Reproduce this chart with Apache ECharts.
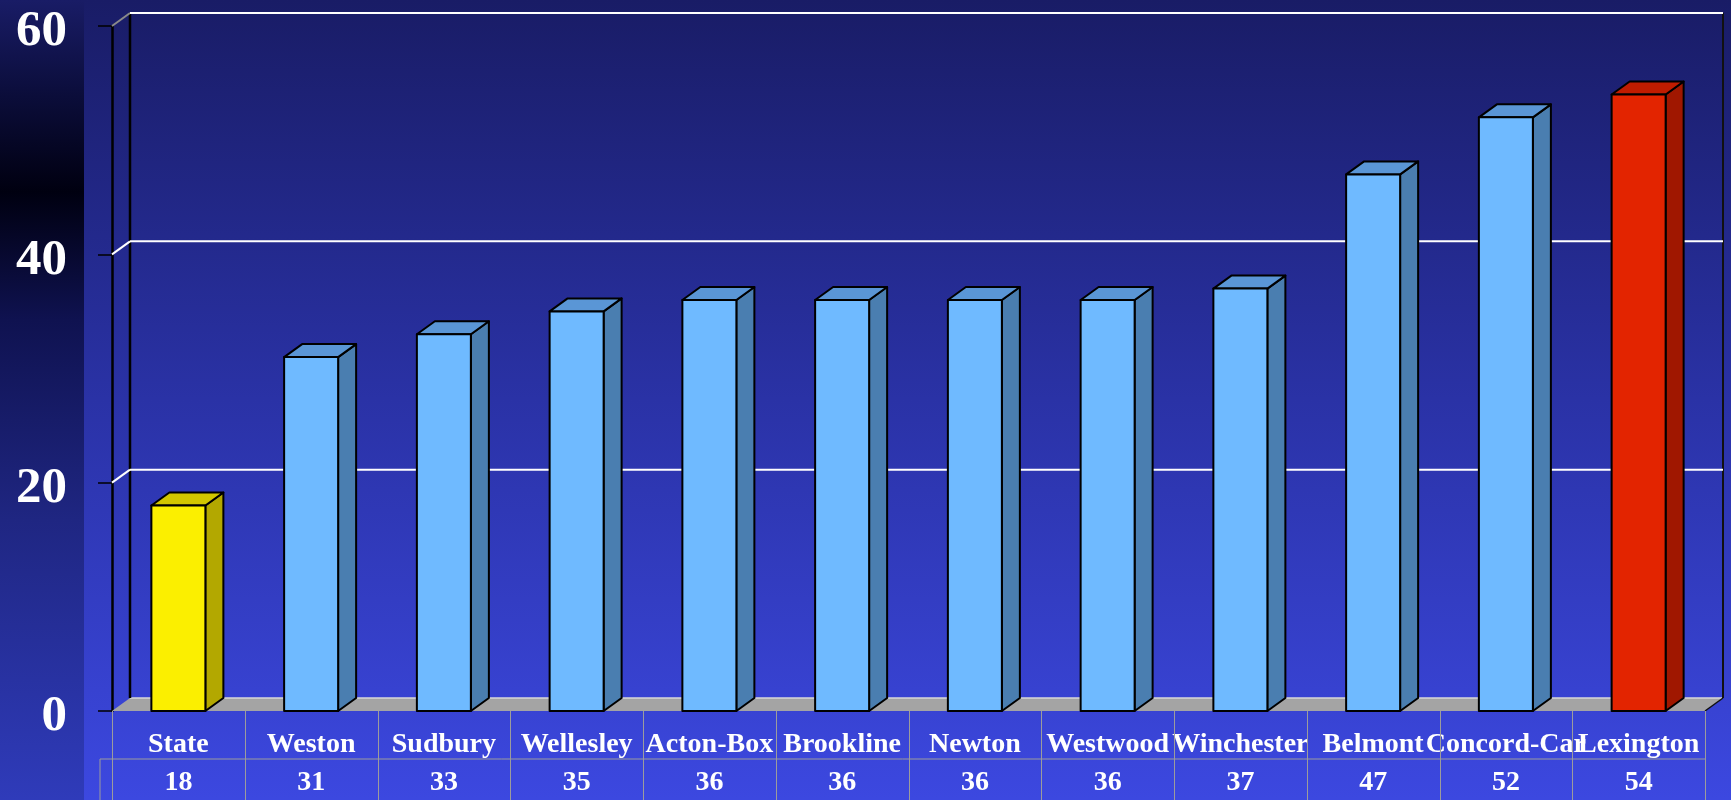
<!DOCTYPE html>
<html>
<head>
<meta charset="utf-8">
<script src="https://cdn.jsdelivr.net/npm/echarts@6/dist/echarts.min.js"></script>
<style>
  html, body { margin: 0; padding: 0; overflow: hidden; }
  #chart { width: 1731px; height: 800px; }
</style>
</head>
<body>
<div id="chart"></div>
<script>
// data
const categories = ['State', 'Weston', 'Sudbury', 'Wellesley', 'Acton-Box', 'Brookline', 'Newton', 'Westwood', 'Winchester', 'Belmont', 'Concord-Car', 'Lexington']
const values = [18, 31, 33, 35, 36, 36, 36, 36, 37, 47, 52, 54]
const yTicks = [0, 20, 40, 60]

const FONT = '"Liberation Serif", "Times New Roman", serif'
const DX = 18      // 3d depth, horizontal
const DY = 13      // 3d depth, vertical
const BAR_W = 54

function barColors (name) {
  if (name === 'State') return { front: '#fbef00', side: '#b3a800', top: '#d2c600' }
  if (name === 'Lexington') return { front: '#e32400', side: '#a01700', top: '#c01c00' }
  return { front: '#6fbaff', side: '#4a7eb0', top: '#5a96d6' }
}

const black = { stroke: '#000', lineWidth: 2, lineJoin: 'round' }

// bars: front face, side face, top face
function renderBar (params, api) {
  const i = api.value(0)
  const v = api.value(1)
  const top = api.coord([i, v])
  const base = api.coord([i, 0])
  const x0 = top[0] - BAR_W / 2
  const x1 = top[0] + BAR_W / 2
  const c = barColors(categories[i])
  return {
    type: 'group',
    children: [
      { type: 'polygon', shape: { points: [[x1, top[1]], [x1 + DX, top[1] - DY], [x1 + DX, base[1] - DY], [x1, base[1]]] }, style: { fill: c.side, ...black } },
      { type: 'polygon', shape: { points: [[x0, top[1]], [x0 + DX, top[1] - DY], [x1 + DX, top[1] - DY], [x1, top[1]]] }, style: { fill: c.top, ...black } },
      { type: 'rect', shape: { x: x0, y: top[1], width: BAR_W, height: base[1] - top[1] }, style: { fill: c.front, ...black } }
    ]
  }
}

// back wall gridlines with the little diagonal from the front axis
function renderGrid (params, api) {
  const cs = params.coordSys
  const t = api.value(1)
  if (t === 0) return null
  const y = api.coord([0, t])[1]
  const left = cs.x
  const right = cs.x + cs.width
  return {
    type: 'group',
    children: [
      { type: 'line', shape: { x1: left, y1: y, x2: left + DX, y2: y - DY }, style: { stroke: t === 60 ? '#8a8a8a' : '#ffffff', lineWidth: 2 } },
      { type: 'line', shape: { x1: left + DX, y1: y - DY, x2: right + DX, y2: y - DY }, style: { stroke: '#ffffff', lineWidth: 2 } }
    ]
  }
}

// floor, walls and the data table lines
function renderFrame (params, api) {
  const cs = params.coordSys
  const left = cs.x
  const right = cs.x + cs.width
  const y0 = api.coord([0, 0])[1]
  const yTop = api.coord([0, 60])[1]
  const colW = cs.width / categories.length
  const rowY = y0 + 48
  const children = [
    { type: 'polygon', shape: { points: [[left, y0], [left + DX, y0 - DY], [right + DX, y0 - DY], [right, y0]] }, style: { fill: '#a4a4a4' } },
    { type: 'line', shape: { x1: left + DX, y1: y0 - DY, x2: right + DX, y2: y0 - DY }, style: { stroke: '#d8d8d8', lineWidth: 1.5 } },
    { type: 'line', shape: { x1: right, y1: y0, x2: right + DX, y2: y0 - DY }, style: { stroke: '#111', lineWidth: 1.5 } },
    { type: 'line', shape: { x1: left + DX, y1: yTop - DY, x2: left + DX, y2: y0 - DY }, style: { stroke: '#000', lineWidth: 2.5 } },
    { type: 'line', shape: { x1: right + DX, y1: yTop - DY, x2: right + DX, y2: y0 - DY }, style: { stroke: '#111', lineWidth: 2 } },
    { type: 'line', shape: { x1: left - 12, y1: rowY, x2: right, y2: rowY }, style: { stroke: '#9c9c9c', lineWidth: 1 } },
    { type: 'line', shape: { x1: left - 12, y1: rowY, x2: left - 12, y2: 800 }, style: { stroke: '#9c9c9c', lineWidth: 1 } }
  ]
  for (let k = 0; k <= categories.length; k++) {
    const x = Math.round(left + k * colW) + 0.5
    children.push({ type: 'line', shape: { x1: x, y1: y0, x2: x, y2: 800 }, style: { stroke: '#9c9c9c', lineWidth: 1 } })
  }
  return { type: 'group', children }
}

const chart = echarts.init(document.getElementById('chart'), null, { renderer: 'canvas' })

const option = {
  animation: false,
  graphic: [
    {
      type: 'rect', z: -10, silent: true,
      shape: { x: 0, y: 0, width: 1731, height: 800 },
      style: { fill: new echarts.graphic.LinearGradient(0, 0, 0, 1, [
        { offset: 0, color: '#191c66' },
        { offset: 0.5, color: '#2a32a6' },
        { offset: 1, color: '#3c48e0' }
      ]) }
    },
    {
      type: 'rect', z: -9, silent: true,
      shape: { x: 0, y: 0, width: 84, height: 800 },
      style: { fill: new echarts.graphic.LinearGradient(0, 0, 0, 1, [
        { offset: 0, color: '#191c66' },
        { offset: 0.12, color: '#0b0d3a' },
        { offset: 0.24, color: '#000010' },
        { offset: 0.4, color: '#0f1250' },
        { offset: 0.65, color: '#1f2682' },
        { offset: 1, color: '#2f3bba' }
      ]) }
    }
  ],
  grid: { left: 112, right: 26, top: 26, bottom: 89, containLabel: false },
  xAxis: {
    type: 'category',
    data: categories,
    axisLine: { show: false },
    axisTick: { show: false },
    axisLabel: {
      interval: 0,
      margin: 15,
      formatter: (val, idx) => '{n|' + val + '}\n{v|' + values[idx] + '}',
      rich: {
        n: { color: '#fff', fontSize: 28, fontWeight: 'bold', fontFamily: FONT, lineHeight: 38, align: 'center' },
        v: { color: '#fff', fontSize: 28, fontWeight: 'bold', fontFamily: FONT, lineHeight: 38, align: 'center' }
      }
    }
  },
  yAxis: {
    type: 'value',
    min: 0,
    max: 60,
    interval: 20,
    axisLine: { show: true, lineStyle: { color: '#000', width: 2.5 } },
    axisTick: { show: true, length: 14, lineStyle: { color: '#000', width: 1.5 } },
    splitLine: { show: false },
    axisLabel: { color: '#fff', fontSize: 51, fontWeight: 'bold', fontFamily: FONT, margin: 45, verticalAlign: 'top', lineHeight: 12 }
  },
  series: [
    {
      type: 'custom', z: 1, silent: true,
      renderItem: renderFrame,
      data: [[0, 0]],
      encode: { x: 0, y: 1 }
    },
    {
      type: 'custom', z: 2, silent: true,
      renderItem: renderGrid,
      data: yTicks.map(t => [0, t]),
      encode: { x: 0, y: 1 }
    },
    {
      type: 'custom', z: 3,
      renderItem: renderBar,
      data: values.map((v, i) => [i, v]),
      encode: { x: 0, y: 1 }
    }
  ]
}

chart.setOption(option)
</script>
</body>
</html>
